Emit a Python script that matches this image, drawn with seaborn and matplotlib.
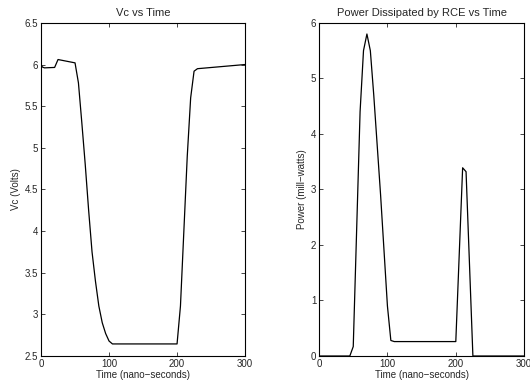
import matplotlib
matplotlib.use("Agg")
import matplotlib.pyplot as plt
import seaborn as sns
import pandas as pd

# Vc vs time (ns, volts)
vc_time = [0, 2, 5, 20, 25, 50, 55, 60, 65, 70, 75, 80, 85, 90, 95, 100, 105,
           200, 205, 210, 215, 220, 225, 230, 300]
vc_volts = [6.0, 5.97, 5.96, 5.965, 6.06, 6.02, 5.78, 5.3, 4.8, 4.25, 3.75, 3.4,
            3.1, 2.9, 2.77, 2.68, 2.645, 2.645, 3.1, 4.0, 4.9, 5.6, 5.92, 5.95, 6.0]

# Power dissipated by RCE (ns, milliwatts)
pw_time = [0, 45, 50, 60, 65, 70, 75, 80, 85, 90, 95, 100, 105, 110,
           200, 210, 215, 225, 300]
pw_mw = [0, 0, 0.17, 4.4, 5.5, 5.8, 5.5, 4.7, 3.8, 2.9, 1.9, 0.9, 0.28, 0.26,
         0.26, 3.39, 3.32, 0, 0]

sns.set_style("ticks")
plt.rcParams['font.family'] = ['Liberation Sans', 'DejaVu Sans']
plt.rcParams['font.size'] = 7

vc_df = pd.DataFrame({"Time": vc_time, "Vc": vc_volts})
pw_df = pd.DataFrame({"Time": pw_time, "Power": pw_mw})

fig = plt.figure(figsize=(5.3, 3.86), dpi=100)
ax1 = fig.add_axes([0.0774, 0.0777, 0.385, 0.863])
ax2 = fig.add_axes([0.602, 0.0777, 0.387, 0.863])

sns.lineplot(data=vc_df, x="Time", y="Vc", ax=ax1, color="black", lw=0.9)
sns.lineplot(data=pw_df, x="Time", y="Power", ax=ax2, color="black", lw=0.9)

ax1.set_xlim(0, 300)
ax1.set_ylim(2.5, 6.5)
ax1.set_xticks([0, 100, 200, 300])
ax1.set_yticks([2.5, 3, 3.5, 4, 4.5, 5, 5.5, 6, 6.5])
ax1.set_yticklabels(["2.5", "3", "3.5", "4", "4.5", "5", "5.5", "6", "6.5"])
ax1.set_title("Vc vs Time", fontsize=8, pad=5)
ax1.set_xlabel("Time (nano\u2212seconds)", fontsize=7, labelpad=1)
ax1.set_ylabel("Vc (Volts)", fontsize=7, labelpad=3)

ax2.set_xlim(0, 300)
ax2.set_ylim(0, 6)
ax2.set_xticks([0, 100, 200, 300])
ax2.set_yticks([0, 1, 2, 3, 4, 5, 6])
ax2.set_title("Power Dissipated by RCE vs Time", fontsize=8, pad=5)
ax2.set_xlabel("Time (nano\u2212seconds)", fontsize=7, labelpad=1)
ax2.set_ylabel("Power (mill\u2212watts)", fontsize=7, labelpad=3)

for ax in (ax1, ax2):
    ax.tick_params(direction="in", length=3, width=0.6, top=True, right=True,
                   labelsize=7, pad=2)
    for spine in ax.spines.values():
        spine.set_visible(True)
        spine.set_linewidth(0.8)
        spine.set_color("black")

fig.savefig("out.png", dpi=100, facecolor="white")
